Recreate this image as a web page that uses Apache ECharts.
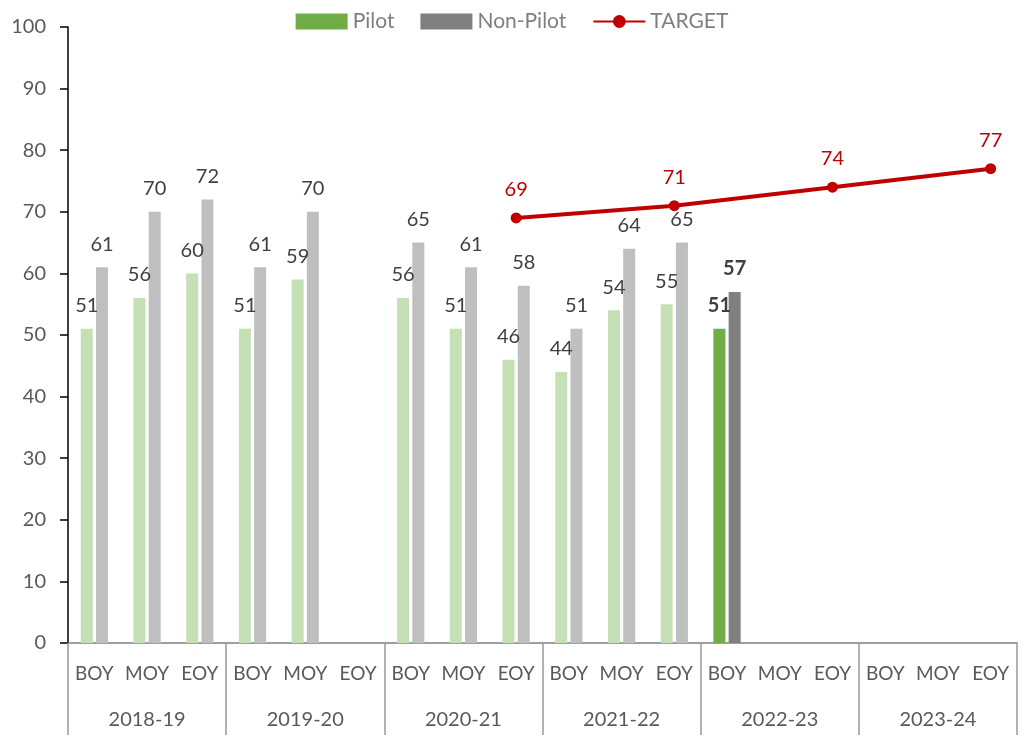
<!DOCTYPE html>
<html lang="en">
    <head>
        <meta http-equiv="Content-Type" content="text/html; charset=utf-8" />
        <title>Pilot vs Non-Pilot</title>
        <style>
            * {
                margin: 0;
                padding: 0;
                box-sizing: border-box;
            }
            html,
            body {
                width: 100%;
                height: 100%;
                background: #fff;
            }
            #chart {
                width: 1024px;
                height: 742px;
            }
        </style>
    </head>
    <body>
        <div id="chart"></div>
        <script src="https://cdn.jsdelivr.net/npm/echarts@6/dist/echarts.min.js"></script>
        <script>
            const years = ['2018-19', '2019-20', '2020-21', '2021-22', '2022-23', '2023-24']
            const terms = ['BOY', 'MOY', 'EOY']
            const categories = years.flatMap((y) => terms.map((t) => y + ' ' + t))
            const pilot = [51, 56, 60, 51, 59, null, 56, 51, 46, 44, 54, 55, 51, null, null, null, null, null]
            const nonPilot = [61, 70, 72, 61, 70, null, 65, 61, 58, 51, 64, 65, 57, null, null, null, null, null]
            const target = [null, null, null, null, null, null, null, null, 69, null, null, 71, null, null, 74, null, null, 77]
            // current (latest) reading drawn darker + bold label
            const currentIndex = 12

            const font = 'Lato, "Open Sans", sans-serif'
            const textGrey = '#595959'

            function barData(values, light, dark) {
                return values.map((v, i) => {
                    if (i === currentIndex) {
                        return { value: v, itemStyle: { color: dark }, label: { fontWeight: 'bold' } }
                    }
                    return { value: v, itemStyle: { color: light } }
                })
            }

            const barLabel = {
                show: true,
                position: 'top',
                distance: 13,
                color: '#404040',
                fontSize: 20,
                fontFamily: font,
            }

            const chart = echarts.init(document.getElementById('chart'))
            chart.setOption({
                animation: false,
                textStyle: { fontFamily: font },
                legend: {
                    top: 6,
                    left: 'center',
                    itemWidth: 52,
                    itemHeight: 16,
                    itemGap: 26,
                    textStyle: { color: '#7f7f7f', fontSize: 21, fontFamily: font },
                    data: [
                        { name: 'Pilot', icon: 'rect' },
                        { name: 'Non-Pilot', icon: 'rect' },
                        { name: 'TARGET' },
                    ],
                },
                grid: {
                    left: 68,
                    right: 7,
                    top: 27,
                    bottom: 99,
                },
                xAxis: [
                    {
                        type: 'category',
                        data: categories,
                        axisLine: { lineStyle: { color: '#808080', width: 1.5 } },
                        axisTick: { show: false },
                        axisLabel: {
                            margin: 21,
                            color: textGrey,
                            fontSize: 19,
                            fontFamily: font,
                            interval: 0,
                            formatter: (v) => v.split(' ')[1],
                        },
                    },
                    {
                        type: 'category',
                        position: 'bottom',
                        data: years,
                        axisLine: { show: false },
                        axisTick: { show: true, length: 92, lineStyle: { color: '#999', width: 1.5 } },
                        axisLabel: {
                            margin: 67,
                            color: textGrey,
                            fontSize: 20,
                            fontFamily: font,
                        },
                    },
                ],
                yAxis: {
                    type: 'value',
                    min: 0,
                    max: 100,
                    interval: 10,
                    splitLine: { show: false },
                    axisLine: { show: true, lineStyle: { color: '#000', width: 1.5 } },
                    axisTick: { show: true, length: 8, lineStyle: { color: '#000', width: 1.5 } },
                    axisLabel: {
                        margin: 22,
                        color: textGrey,
                        fontSize: 20,
                        fontFamily: font,
                    },
                },
                series: [
                    {
                        name: 'Pilot',
                        type: 'bar',
                        color: '#70AD47',
                        barWidth: 12,
                        barGap: '27%',
                        data: barData(pilot, '#C5E0B4', '#70AD47'),
                        label: barLabel,
                    },
                    {
                        name: 'Non-Pilot',
                        type: 'bar',
                        color: '#808080',
                        barWidth: 12,
                        data: barData(nonPilot, '#BFBFBF', '#808080'),
                        label: barLabel,
                    },
                    {
                        name: 'TARGET',
                        type: 'line',
                        color: '#C00000',
                        data: target,
                        connectNulls: true,
                        symbol: 'circle',
                        symbolSize: 11,
                        lineStyle: { width: 4, color: '#C00000' },
                        label: {
                            show: true,
                            position: 'top',
                            distance: 13,
                            color: '#C00000',
                            fontSize: 20,
                            fontFamily: font,
                        },
                    },
                ],
            })
        </script>
    </body>
</html>
